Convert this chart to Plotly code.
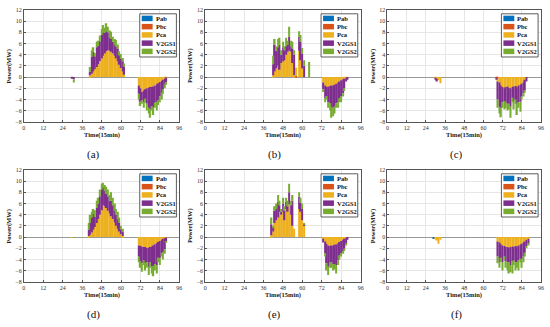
import plotly.graph_objects as go

W, H = 550, 327
T = list(range(1, 97))
NAMES = ["Pab", "Pbc", "Pca", "V2GS1", "V2GS2"]
PANEL_LABELS = ["(a)", "(b)", "(c)", "(d)", "(e)", "(f)"]
X_TICKS = [0, 12, 24, 36, 48, 60, 72, 84, 96]
Y_TICKS = [-8, -6, -4, -2, 0, 2, 4, 6, 8, 10, 12]
X_TITLE = "Time(15min)"
Y_TITLE = "Power(MW)"

# ---- data: (start time step, values) segments, zero elsewhere ----
# panel (a)
a_pab = []
a_pbc = []
a_pca = [(41, [0.3, 0.6, 1.0, 1.4, 1.8, 2.3, 2.8, 3.3, 3.8, 4.2, 4.6, 4.8, 4.7, 4.5, 4.2, 3.8, 3.3, 2.8, 2.2, 1.6, 1.0, 0.4]),
         (71, [-1.5, -2.0, -2.7, -2.4, -2.2, -2.0, -1.9, -1.8, -1.8, -1.7, -1.5, -1.3, -1.1, -0.9, -0.7, -0.5, -0.3, -0.1])]
a_v2gs1 = [(30, [-0.3, -0.4]),
           (41, [0.7, 3.0, 3.5, 2.3, 3.5, 3.3, 3.6, 4.2, 4.2, 3.7, 3.6, 3.2, 2.4, 2.3, 2.1, 1.9, 2.1, 2.2, 1.7, 1.6, 1.8, 1.5]),
           (71, [-1.5, -2.4, -1.5, -2.1, -1.7, -2.8, -3.6, -4.0, -3.4, -3.8, -3.1, -3.2, -3.1, -2.6, -2.1, -1.7, -1.1, -0.8])]
a_v2gs2 = [(31, [-0.6]),
           (41, [0.8, 1.2, 0.8, 0.6, 1.0, 0.9, 1.0, 1.1, 1.3, 0.9, 1.4, 1.0, 1.2, 1.3, 0.9, 1.1, 1.2, 0.8, 0.7, 0.9, 0.6, 0.5]),
           (71, [-1.0, -0.8, -0.6, -1.0, -0.7, -1.2, -1.0, -1.5, -0.8, -1.3, -0.9, -1.5, -0.8, -1.0, -1.2, -0.8, -0.6, -0.5])]

# panel (b)
b_pab = []
b_pbc = [(56, [0.2])]
b_pca = [(42, [0.3, 1.0, 1.5, 2.0, 1.3, 2.5, 2.8, 3.0, 4.0, 4.5, 4.7, 4.5, 2.5, 0.3, 1.5, 0.0, 4.7, 3.0, 1.5, 0.0]),
         (73, [-1.0, -1.5, -1.8, -1.7, -1.6, -1.5, -1.5, -1.4, -1.2, -1.0, -0.8, -0.6, -0.4, -0.3, -0.2, 0.0])]
b_v2gs1 = [(42, [2.0, 4.8, 3.2, 3.3, 4.5, 1.5, 2.5, 1.8, 1.5, 1.2, 2.5, 1.0, 2.6, 3.7, 0.0, 0.0, 2.5, 3.3, 2.7, 2.0]),
           (73, [-1.2, -2.3, -1.6, -2.8, -3.1, -4.0, -4.0, -3.9, -3.5, -3.5, -3.0, -2.9, -2.5, -1.7, -0.6, -0.5])]
b_v2gs2 = [(42, [1.5, 1.0, 0.8, 1.5, 1.2, 0.8, 1.0, 0.7, 1.5, 0.8, 1.8, 1.0, 1.2, 0.8, 0.0, 0.0, 1.0, 1.2, 1.0, 1.0]),
           (64, [2.7]),
           (73, [-0.5, -0.7, -0.6, -1.0, -1.3, -1.8, -1.5, -1.2, -0.8, -1.0, -0.7, -1.0, -0.6, -0.5, 0.0, 0.0])]

# panel (c)
c_pab = []
c_pbc = [(68, [-0.2, -0.3])]
c_pca = [(30, [-0.3, -0.5, -0.6, -1.1]),
         (68, [0.0, -0.5, -1.0, -1.5, -1.8, -2.0, -1.8, -1.7, -1.9, -2.0, -1.8, -1.7, -1.6, -1.8, -1.5, -1.4, -1.2, -1.0, -0.5, 0.0])]
c_v2gs1 = [(30, [-0.2, -0.3]),
           (68, [-0.3, -3.2, -4.3, -4.1, -2.7, -2.3, -2.8, -3.1, -2.9, -3.3, -1.9, -2.6, -2.4, -3.0, -3.0, -3.0, -2.3, -1.9, -1.9, -0.8])]
c_v2gs2 = [(68, [0.0, -1.5, -1.2, -1.6, -1.0, -1.5, -1.0, -1.2, -1.0, -2.0, -0.8, -1.5, -0.8, -2.0, -1.0, -1.8, -0.5, -0.6, -0.4, 0.0])]

# panel (d)
d_pab = []
d_pbc = []
d_pca = [(30, [-0.1]),
         (40, [0.2, 0.4, 0.8, 1.3, 1.8, 2.5, 3.2, 4.0, 4.8, 5.7, 5.5, 5.2, 4.7, 4.2, 3.7, 3.2, 2.6, 2.0, 1.5, 1.0, 0.5, 0.2]),
         (71, [-1.5, -1.6, -1.7, -1.8, -1.8, -1.9, -1.9, -1.8, -1.7, -1.5, -1.3, -1.1, -0.9, -0.7, -0.5, -0.3, -0.2, -0.1])]
d_v2gs1 = [(40, [1.1, 2.1, 2.7, 2.9, 1.8, 2.7, 2.8, 3.3, 3.7, 3.2, 2.8, 2.5, 2.6, 2.3, 2.8, 2.5, 2.2, 2.0, 1.8, 1.6, 0.9, 0.8]),
           (71, [-2.0, -2.7, -3.0, -2.4, -2.9, -2.6, -3.4, -2.7, -3.5, -3.7, -3.5, -3.9, -2.8, -3.1, -2.4, -2.4, -2.0, -0.7])]
d_v2gs2 = [(31, [-0.1]),
           (40, [1.2, 1.5, 1.0, 0.8, 1.2, 1.3, 1.0, 1.2, 1.0, 0.8, 1.0, 1.3, 1.2, 1.0, 1.5, 1.3, 1.2, 1.0, 1.2, 0.9, 0.6, 0.5]),
           (71, [-1.0, -1.2, -1.5, -0.8, -1.3, -1.0, -1.5, -1.0, -1.3, -1.8, -1.2, -1.5, -0.8, -1.2, -0.6, -1.3, -0.8, -0.2])]

# panel (e)
e_pab = []
e_pbc = []
e_pca = [(41, [0.3, 1.0, 2.5, 3.0, 3.5, 4.5, 4.0, 4.5, 3.0, 5.0, 4.5, 5.8, 4.0, 2.0, 1.5, 0.0, 0.0, 5.0, 4.5, 3.0, 2.0]),
         (73, [-0.3, -0.8, -1.2, -1.5, -1.6, -1.5, -1.5, -1.4, -1.3, -1.1, -0.9, -0.7, -0.5, -0.3, -0.2, 0.0])]
e_v2gs1 = [(41, [2.0, 0.7, 2.2, 2.0, 2.8, 1.2, 0.5, 1.5, 1.7, 1.3, 1.0, 2.2, 1.7, 4.5, 0.0, 0.0, 0.0, 2.2, 1.6, 2.0, 0.2]),
           (73, [-0.7, -2.1, -3.5, -3.8, -3.0, -3.0, -3.3, -3.4, -3.7, -3.1, -2.4, -2.2, -2.0, -1.8, -1.0, -0.5])]
e_v2gs2 = [(41, [1.2, 0.3, 0.8, 1.0, 1.2, 0.8, 0.5, 1.0, 0.8, 0.7, 1.0, 1.5, 0.8, 1.0, 0.0, 0.0, 0.0, 0.8, 0.9, 1.0, 0.3]),
           (73, [0.0, -0.6, -1.3, -1.5, -0.9, -1.0, -1.2, -1.0, -1.5, -0.8, -0.7, -0.6, -0.5, -0.4, -0.3, 0.0])]

# panel (f)
f_pab = [(29, [-0.2])]
f_pbc = []
f_pca = [(30, [-0.4, -0.6, -1.2, -0.5]),
         (69, [-0.8, -1.0, -1.3, -1.5, -1.6, -1.8, -1.8, -1.9, -1.8, -1.7, -1.8, -1.6, -1.7, -1.5, -1.4, -1.2, -1.0, -0.8, -0.5, -0.3])]
f_v2gs1 = [(69, [-2.7, -3.5, -2.4, -3.0, -1.9, -2.5, -2.7, -2.6, -3.2, -2.6, -2.4, -2.9, -2.8, -2.7, -2.5, -2.8, -2.5, -2.0, -1.1, -0.9])]
f_v2gs2 = [(69, [-1.2, -1.0, -0.8, -1.5, -0.5, -1.2, -1.5, -2.0, -1.3, -2.2, -0.8, -1.5, -1.0, -1.8, -0.6, -1.5, -1.0, -0.7, -0.4, -0.3])]

PANELS = [
    [a_pab, a_pbc, a_pca, a_v2gs1, a_v2gs2],
    [b_pab, b_pbc, b_pca, b_v2gs1, b_v2gs2],
    [c_pab, c_pbc, c_pca, c_v2gs1, c_v2gs2],
    [d_pab, d_pbc, d_pca, d_v2gs1, d_v2gs2],
    [e_pab, e_pbc, e_pca, e_v2gs1, e_v2gs2],
    [f_pab, f_pbc, f_pca, f_v2gs1, f_v2gs2],
]

# ---- styles ----
COLORS = ["#0072BD", "#D95319", "#EDB120", "#7E2F8E", "#77AC30"]
SERIF = "Liberation Serif, Times New Roman, serif"
# plot boxes in pixels: (left, right, top, bottom)
BOXES = [(22, 179, 7, 121), (205, 362, 7, 121), (389, 544, 7, 121),
         (22, 179, 170, 284), (205, 362, 170, 284), (389, 544, 170, 284)]


def expand(segs):
    vals = [0.0] * len(T)
    for start, seg in segs:
        for i, v in enumerate(seg):
            vals[start - 1 + i] = v
    return vals


def px(x):
    return x / W


def py(y):
    return 1 - y / H


fig = go.Figure()
shapes = []
annotations = []
layout_axes = {}

for k, (series, box) in enumerate(zip(PANELS, BOXES), start=1):
    xa = "x" if k == 1 else f"x{k}"
    ya = "y" if k == 1 else f"y{k}"
    for name, segs, color in zip(NAMES, series, COLORS):
        fig.add_trace(go.Bar(x=T, y=expand(segs), name=name, xaxis=xa, yaxis=ya,
                             marker=dict(color=color, line=dict(width=0)),
                             showlegend=False))
    L, R, Tp, B = box
    axis_common = dict(showline=True, mirror=True, linecolor="#555555", linewidth=0.8,
                       ticks="inside", ticklen=2, tickcolor="#555555", tickwidth=0.6,
                       showgrid=True, gridcolor="#e6e6e6", gridwidth=0.6,
                       tickfont=dict(family=SERIF, size=6, color="#333333"))
    layout_axes["xaxis" if k == 1 else f"xaxis{k}"] = dict(
        domain=[px(L), px(R)], anchor=ya, range=[0, 96], tickvals=X_TICKS,
        zeroline=False, **axis_common)
    layout_axes["yaxis" if k == 1 else f"yaxis{k}"] = dict(
        domain=[py(B), py(Tp)], anchor=xa, range=[-8, 12], tickvals=Y_TICKS,
        zeroline=True, zerolinecolor="#999999", zerolinewidth=1, **axis_common)

    cx = (L + R) / 2
    annotations.append(dict(x=px(cx), y=py(B + 13), xref="paper", yref="paper", text=f"<b>{X_TITLE}</b>",
                            showarrow=False, font=dict(family=SERIF, size=6.5, color="#222"),
                            xanchor="center", yanchor="middle"))
    annotations.append(dict(x=px(L - 15), y=py((Tp + B) / 2), xref="paper", yref="paper",
                            text=f"<b>{Y_TITLE}</b>", textangle=-90, showarrow=False,
                            font=dict(family=SERIF, size=6.5, color="#222"),
                            xanchor="center", yanchor="middle"))
    annotations.append(dict(x=px(cx - 8), y=py(B + 33), xref="paper", yref="paper",
                            text=PANEL_LABELS[k - 1], showarrow=False,
                            font=dict(family=SERIF, size=11, color="#111"),
                            xanchor="center", yanchor="middle"))

    # legend box
    shapes.append(dict(type="rect", xref="paper", yref="paper",
                       x0=px(R - 40), x1=px(R - 3), y0=py(Tp + 48), y1=py(Tp + 4),
                       fillcolor="white", line=dict(color="#333333", width=0.8), layer="above"))
    for i, (name, color) in enumerate(zip(NAMES, COLORS)):
        yc = Tp + 8.7 + i * 8.4
        shapes.append(dict(type="rect", xref="paper", yref="paper",
                           x0=px(R - 38), x1=px(R - 27), y0=py(yc + 2.8), y1=py(yc - 2.8),
                           fillcolor=color, line=dict(width=0), layer="above"))
        annotations.append(dict(x=px(R - 25), y=py(yc), xref="paper", yref="paper", text=f"<b>{name}</b>",
                                showarrow=False, font=dict(family=SERIF, size=6.5, color="#111"),
                                xanchor="left", yanchor="middle", borderpad=0))

fig.update_layout(width=W, height=H, autosize=False, margin=dict(l=0, r=0, t=0, b=0),
                  paper_bgcolor="white", plot_bgcolor="white",
                  barmode="relative", bargap=0.12,
                  shapes=shapes, annotations=annotations, **layout_axes)

fig.write_html("out.html", config={"displayModeBar": False},
               post_script="document.body.style.margin='0';")
